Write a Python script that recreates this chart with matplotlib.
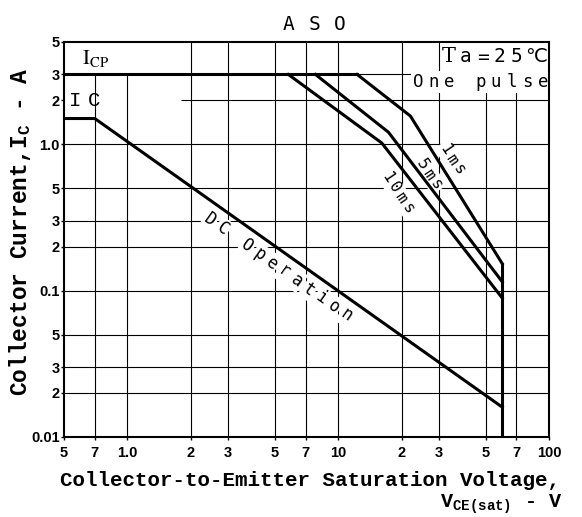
import numpy as np
import matplotlib
matplotlib.use('Agg')
import matplotlib.pyplot as plt
from matplotlib.ticker import NullLocator

plt.rcParams['mathtext.fontset'] = 'custom'
plt.rcParams['mathtext.rm'] = 'Liberation Mono:bold'
plt.rcParams['mathtext.it'] = 'Liberation Mono:bold'
plt.rcParams['mathtext.bf'] = 'Liberation Mono:bold'

# ---------------- data ----------------
icp_v = [0.5, 12.3]
icp_i = [3.0, 3.0]
dc_v = [0.5, 0.7, 60]
dc_i = [1.5, 1.5, 0.016]
p1ms_v = [12.3, 22.0, 60]
p1ms_i = [3.0, 1.56, 0.153]
p5ms_v = [7.8, 17.3, 60]
p5ms_i = [3.0, 1.21, 0.115]
p10ms_v = [5.8, 16.1, 60]
p10ms_i = [3.0, 1.02, 0.089]
vlim_v = [60, 60]
vlim_i = [0.01, 0.153]

x_ticks = [0.5, 0.7, 1, 2, 3, 5, 7, 10, 20, 30, 50, 70, 100]
x_labels = ['5', '7', '1.0', '2', '3', '5', '7', '10', '2', '3', '5', '7', '100']
y_ticks = [0.01, 0.02, 0.03, 0.05, 0.1, 0.2, 0.3, 0.5, 1, 2, 3, 5]
y_labels = ['0.01', '2', '3', '5', '0.1', '2', '3', '5', '1.0', '2', '3', '5']

# grid lines (value, start, end)
vgrid = [(0.7, 0.01, 3), (1, 0.01, 3), (2, 0.01, 5), (3, 0.01, 5), (5, 0.01, 5),
         (7, 0.01, 5), (10, 0.01, 5), (20, 0.01, 5), (30, 0.01, 5),
         (50, 0.01, 2.42), (70, 0.01, 2.42)]
hgrid = [(0.02, 0.5, 100), (0.03, 0.5, 100), (0.05, 0.5, 100), (0.1, 0.5, 100),
         (0.2, 0.5, 100), (0.3, 0.5, 100), (0.5, 0.5, 100), (1, 0.5, 100),
         (2, 1.8, 100), (3, 0.5, 22.6)]

# ---------------- figure ----------------
W, H = 582, 517
L, R, T, B = 64, 549, 42, 437
fig = plt.figure(figsize=(W / 100, H / 100), dpi=100)
ax = fig.add_axes([L / W, 1 - B / H, (R - L) / W, (B - T) / H])
ax.set_xscale('log')
ax.set_yscale('log')
ax.set_xlim(0.5, 100)
ax.set_ylim(0.01, 5)

for v, a, b in vgrid:
    ax.vlines(v, a, b, color='black', lw=0.8, zorder=1)
for v, a, b in hgrid:
    ax.hlines(v, a, b, color='black', lw=0.8, zorder=1)

lw = 2.2
for xs, ys in [(icp_v, icp_i), (dc_v, dc_i), (p1ms_v, p1ms_i), (p5ms_v, p5ms_i),
               (p10ms_v, p10ms_i), (vlim_v, vlim_i)]:
    ax.plot(xs, ys, color='black', lw=lw, solid_joinstyle='miter', zorder=3)

ax.set_xticks(x_ticks)
ax.set_xticklabels(x_labels)
ax.set_yticks(y_ticks)
ax.set_yticklabels(y_labels)
ax.xaxis.set_minor_locator(NullLocator())
ax.yaxis.set_minor_locator(NullLocator())
ax.tick_params(axis='both', length=2.5, width=1, direction='out', color='black')
ax.tick_params(axis='x', pad=4)
ax.tick_params(axis='y', pad=0.5)
for lab in ax.get_xticklabels() + ax.get_yticklabels():
    lab.set_fontfamily('Liberation Sans')
    lab.set_fontweight('bold')
    lab.set_fontsize(10.5)
for s in ax.spines.values():
    s.set_linewidth(1.5)


def px2ax(px, py):
    return ((px - L) / (R - L), (B - py) / (B - T))


def spaced(cx, cy, s, step, angle, size, family, weight='normal', bg=True):
    rad = np.deg2rad(angle)
    for i, ch in enumerate(s):
        if ch == ' ':
            continue
        px = cx + i * step * np.cos(rad)
        py = cy - i * step * np.sin(rad)
        fx, fy = px2ax(px, py)
        ax.text(fx, fy, ch, transform=ax.transAxes, rotation=angle,
                rotation_mode='anchor', ha='center', va='center',
                fontsize=size, family=family, fontweight=weight,
                bbox=dict(fc='white', ec='none', pad=1.2) if bg else None,
                zorder=2.5)


mono = ['DejaVu Sans Mono', 'DejaVu Sans']

# I_CP label
fx, fy = px2ax(82, 64)
ax.text(fx, fy, r'$\mathrm{I_{CP}}$', transform=ax.transAxes, ha='left',
        va='baseline', fontsize=15, math_fontfamily='stix', zorder=2.5)
# I C label
spaced(75, 101, 'IC', 19, 0, 15, ['Liberation Mono'], bg=False)

# Ta=25 C
fx, fy = px2ax(449, 57)
ax.text(fx, fy, 'T', transform=ax.transAxes, ha='center', va='center',
        fontsize=15, family='DejaVu Serif', zorder=2.5)
spaced(466, 57, 'a=25', 16.8, 0, 14, mono, bg=False)
spaced(536, 57, '℃', 1, 0, 14, ['DejaVu Sans', 'Noto Sans CJK JP'], bg=False)
# One pulse
spaced(418, 82, 'One pulse', 15.6, 0, 12.5, mono, bg=True)

# DC Operation
spaced(210, 220, 'DC Operation', 15.1, -35, 12, mono, bg=True)
# pulse labels
spaced(445, 149, '1ms', 12.5, -56, 11.5, mono, bg=True)
spaced(422, 164, '5ms', 12.5, -56, 11.5, mono, bg=True)
spaced(387, 177, '10ms', 12.5, -56, 11.5, mono, bg=True)

# title
for ch, px in zip('ASO', [289, 314, 340]):
    fig.text(px / W, 1 - 24 / H, ch, ha='center', va='center', fontsize=14,
             family='DejaVu Sans Mono')

# axis labels
fig.text(310 / W, 1 - 480 / H, 'Collector-to-Emitter Saturation Voltage,',
         ha='center', va='center', fontsize=15, family='Liberation Mono',
         fontweight='bold')
fig.text(562 / W, 1 - 508 / H, r'$\mathrm{V_{CE(sat)}}$ - V', ha='right',
         va='baseline', fontsize=14.5, family='Liberation Mono', fontweight='bold')
fig.text(20 / W, 1 - 232 / H, r'Collector Current,$\mathrm{I_C}$ - A',
         rotation=90, ha='center', va='center', fontsize=16.5,
         family='Liberation Mono', fontweight='bold')

fig.savefig('out.png', dpi=100, facecolor='white')
